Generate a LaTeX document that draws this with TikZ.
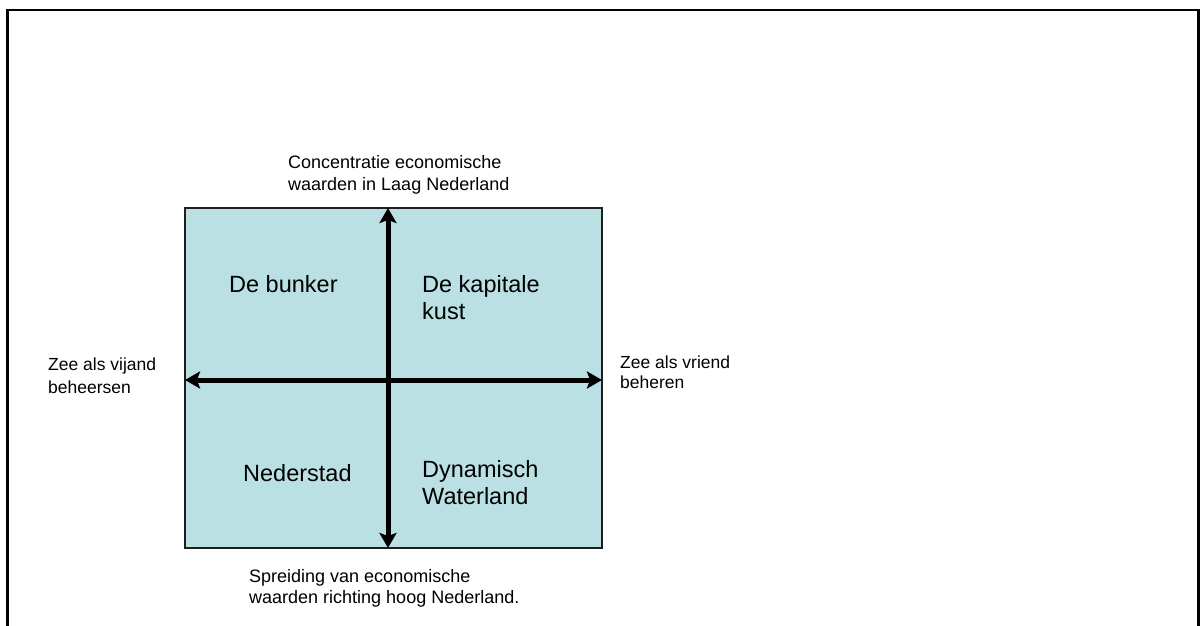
\documentclass[tikz,border=0pt]{standalone}
\usepackage{fontspec}
\setmainfont{Liberation Sans}
\usetikzlibrary{arrows.meta}
\definecolor{quadfill}{RGB}{186,224,228}
\definecolor{quadline}{RGB}{30,30,30}
\tikzset{
  smalllabel/.style={anchor=base west, inner sep=0pt, font=\fontsize{17.5}{22}\selectfont},
  biglabel/.style={anchor=base west, inner sep=0pt, font=\fontsize{23.5}{27.5}\selectfont},
  axisarrow/.style={line width=5pt, {Stealth[length=15pt,width=17pt,inset=3pt]}-{Stealth[length=15pt,width=17pt,inset=3pt]}},
  quadbox/.style={draw=quadline, fill=quadfill, line width=1.5pt, rectangle, outer sep=0pt, inner sep=0pt,
    minimum width=417pt, minimum height=340pt}
}
\newcommand{\lines}[1]{\begin{tabular}[t]{@{}l@{}}#1\end{tabular}}
\begin{document}
\begin{tikzpicture}[x=1pt,y=-1pt]
  \useasboundingbox (0,0) rectangle (1200,626);
  % outer frame, open at the bottom
  \draw[line width=2.5pt] (7.3,626) -- (7.3,10) -- (1198.5,10) -- (1198.5,626);

  % scenario square and its two axes
  \node[quadbox] (quad) at (393.5,378) {};
  \coordinate (cross) at (388,380);
  \draw[axisarrow] (quad.south -| cross) -- (quad.north -| cross);
  \draw[axisarrow] (quad.west |- cross) -- (quad.east |- cross);

  % axis end labels
  \node[smalllabel, font=\fontsize{18}{22}\selectfont] (ltop) at (288,168)
    {\lines{Concentratie economische\\waarden in Laag Nederland}};
  \node[smalllabel, font=\fontsize{18}{21}\selectfont] (lbottom) at (249,582)
    {\lines{Spreiding van economische\\waarden richting hoog Nederland.}};
  \node[smalllabel, font=\fontsize{17.5}{23}\selectfont] (lleft) at (48,370)
    {\lines{Zee als vijand\\beheersen}};
  \node[smalllabel, font=\fontsize{17.5}{20.5}\selectfont] (lright) at (620,368)
    {\lines{Zee als vriend\\beheren}};

  % quadrant scenarios
  \node[biglabel] (qnw) at (229,292) {De bunker};
  \node[biglabel] (qne) at (422,292) {\lines{De kapitale\\kust}};
  \node[biglabel] (qsw) at (243,481) {Nederstad};
  \node[biglabel] (qse) at (422,477) {\lines{Dynamisch\\Waterland}};
\end{tikzpicture}
\end{document}
